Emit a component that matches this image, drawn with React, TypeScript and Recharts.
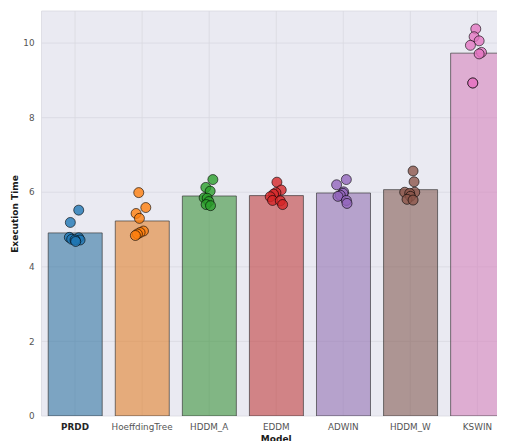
import React from 'react';
import { ComposedChart, Bar, Scatter, XAxis, YAxis, CartesianGrid, Cell, Label } from 'recharts';

const models = ['PRDD', 'HoeffdingTree', 'HDDM_A', 'EDDM', 'ADWIN', 'HDDM_W', 'KSWIN'];
const meanTimes = [4.91, 5.23, 5.9, 5.91, 5.98, 6.07, 9.73];
const yTicks = [0, 2, 4, 6, 8, 10];

const prddRuns = [5.52, 5.19, 4.79, 4.78, 4.74, 4.72, 4.72, 4.68];
const prddJitter = [0.055, -0.07, -0.085, 0.055, -0.05, 0.075, 0.0, 0.01];
const hoeffdingRuns = [5.99, 5.59, 5.43, 5.3, 4.96, 4.92, 4.88, 4.84];
const hoeffdingJitter = [-0.05, 0.055, -0.09, -0.04, 0.02, -0.03, -0.07, -0.1];
const hddmARuns = [6.34, 6.13, 6.03, 5.85, 5.84, 5.75, 5.67, 5.64];
const hddmAJitter = [0.055, -0.05, 0.015, -0.075, -0.03, -0.005, -0.045, 0.02];
const eddmRuns = [6.27, 6.06, 5.99, 5.95, 5.88, 5.78, 5.77, 5.67];
const eddmJitter = [0.01, 0.075, -0.005, -0.04, -0.09, -0.055, 0.06, 0.095];
const adwinRuns = [6.34, 6.2, 6.01, 5.97, 5.92, 5.89, 5.78, 5.7];
const adwinJitter = [0.045, -0.1, 0.005, -0.005, -0.045, -0.08, 0.045, 0.055];
const hddmWRuns = [6.57, 6.28, 6.0, 6.0, 5.97, 5.89, 5.81, 5.79];
const hddmWJitter = [0.04, 0.055, -0.085, 0.065, -0.01, 0.0, -0.05, 0.04];
const kswinRuns = [10.38, 10.17, 10.06, 9.94, 9.75, 9.71, 8.93, 8.93];
const kswinJitter = [-0.025, -0.05, 0.025, -0.105, 0.06, 0.025, -0.07, -0.07];

const allRuns = [prddRuns, hoeffdingRuns, hddmARuns, eddmRuns, adwinRuns, hddmWRuns, kswinRuns];
const allJitter = [prddJitter, hoeffdingJitter, hddmAJitter, eddmJitter, adwinJitter, hddmWJitter, kswinJitter];

const barColors = ['#3274a1', '#e1812c', '#3a923a', '#c03d3e', '#9372b2', '#845b53', '#d684bd'];
const pointColors = ['#1f77b4', '#ff7f0e', '#2ca02c', '#d62728', '#9467bd', '#8c564b', '#e377c2'];

const barData = models.map((name, i) => ({ name, value: meanTimes[i] }));
const pointData = allRuns.map((runs, i) => runs.map((v, j) => ({ x: i + allJitter[i][j], y: v })));

const FONT = "'DejaVu Sans', sans-serif";

const XTick = (props: any) => {
  const { x, y, payload } = props;
  const bold = payload.value === 'PRDD';
  return (
    <text x={x} y={y} dy="0.71em" textAnchor="middle" style={{ fontFamily: FONT }} fontSize={8.8}
      fontWeight={bold ? 'bold' : 'normal'} fill={bold ? '#262626' : '#555555'}>
      {payload.value}
    </text>
  );
};

const Dot = (color: string) => (props: any) => (
  <circle cx={props.cx} cy={props.cy} r={5} fill={color} fillOpacity={0.8} stroke="#000" strokeOpacity={0.75} strokeWidth={0.8} />
);

export default function App() {
  return (
    <div style={{ width: 497, height: 433, overflow: 'hidden', fontFamily: FONT }}>
      <ComposedChart width={503} height={440} data={barData} margin={{ top: 3, right: 0, left: 0, bottom: 2 }} barCategoryGap="10%">
        <CartesianGrid xAxisId="cat" fill="#eaeaf2" stroke="#d9d9e1" strokeWidth={0.8} />
        <XAxis xAxisId="cat" dataKey="name" type="category" height={30} tickLine={false} axisLine={false} tickSize={0} tickMargin={7.5} tick={<XTick />} interval={0}>
          <Label content={(p: any) => {
            const vb = p.viewBox;
            return (
              <text x={vb.x + vb.width / 2} y={431} textAnchor="middle" dominantBaseline="central" style={{ fontFamily: FONT }} fontSize={9} fontWeight="bold" fill="#1a1a1a">Model</text>
            );
          }} />
        </XAxis>
        <XAxis xAxisId="num" dataKey="x" type="number" domain={[-0.5, 6.5]} allowDataOverflow hide />
        <YAxis type="number" domain={[0, 10.86]} ticks={yTicks} width={33.5} tickLine={false} axisLine={false} tickSize={0} tickMargin={7}
          tick={{ fontFamily: FONT, fontSize: 8.8, fill: '#555555' }} allowDataOverflow>
          <Label content={() => (
            <text x={7} y={206} transform="rotate(-90, 7, 206)" textAnchor="middle" dominantBaseline="central" style={{ fontFamily: FONT }} fontSize={9} fontWeight="bold" fill="#1a1a1a">Execution Time</text>
          )} />
        </YAxis>
        <Bar xAxisId="cat" dataKey="value" isAnimationActive={false} stroke="#333" strokeOpacity={0.65} strokeWidth={1}>
          {barData.map((d, i) => (
            <Cell key={d.name} fill={barColors[i]} fillOpacity={0.6} />
          ))}
        </Bar>
        {pointData.map((pts, i) => (
          <Scatter key={models[i]} xAxisId="num" data={pts} dataKey="y" isAnimationActive={false} shape={Dot(pointColors[i])} />
        ))}
      </ComposedChart>
    </div>
  );
}
